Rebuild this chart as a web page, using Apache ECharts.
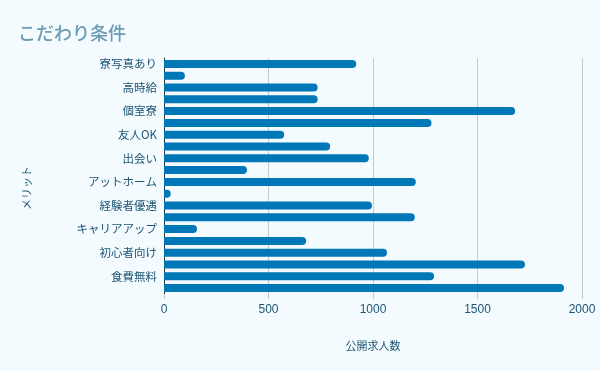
<!DOCTYPE html>
<html><head><meta charset="utf-8">
<script src="https://cdn.jsdelivr.net/npm/echarts@6/dist/echarts.min.js"></script>
<style>html,body{margin:0;padding:0;background:#f4fbff;}#c{width:600px;height:371px;}</style>
</head><body><div id="c"></div>
<script>
const categories = ['寮写真あり','日払い','高時給','交通費支給','個室寮','週払い','友人OK','カップル可','出会い','即入寮可','アットホーム','送迎あり','経験者優遇','短期OK','キャリアアップ','長期歓迎','初心者向け','寮費無料','食費無料','未経験OK'];
const values = [920,100,735,735,1680,1280,575,795,980,397,1205,32,995,1200,158,680,1067,1727,1292,1914];
const xTicks = [0,500,1000,1500,2000];
const chart = echarts.init(document.getElementById('c'));
chart.setOption({
  backgroundColor:'#f4fbff',
  title:{text:'こだわり条件',left:13,top:19,textStyle:{color:'#6a9cb3',fontSize:18,fontWeight:500,fontFamily:'Noto Sans CJK JP'}},
  grid:{left:164,right:18,top:58,bottom:77},
  graphic:[{type:'text',x:27,y:188,rotation:Math.PI/2,style:{text:'メリット',fill:'#1c5473',fontSize:11,fontFamily:'Noto Sans CJK JP',align:'center',verticalAlign:'middle'}}],
  xAxis:{type:'value',min:0,max:2000,interval:500,name:'公開求人数',nameLocation:'middle',nameGap:46,
    nameTextStyle:{color:'#1c5473',fontSize:11,fontFamily:'Noto Sans CJK JP'},
    axisLine:{show:false},axisTick:{show:true,length:5,lineStyle:{color:'#c8c8c8'}},
    axisLabel:{color:'#1c5473',fontSize:12,margin:10,formatter:v=>xTicks.includes(v)?String(v):''},
    splitLine:{lineStyle:{color:'#c8c8c8'}}},
  yAxis:{type:'category',data:categories,inverse:true,
    axisLine:{show:true,lineStyle:{color:'#333'}},axisTick:{show:false},
    axisLabel:{interval:1,color:'#1c5473',fontSize:11.5,margin:7,fontFamily:'Noto Sans CJK JP'}},
  series:[{type:'bar',data:values,barWidth:8,itemStyle:{color:'#0077b6',borderRadius:[0,4,4,0]}}]
});
</script></body></html>
